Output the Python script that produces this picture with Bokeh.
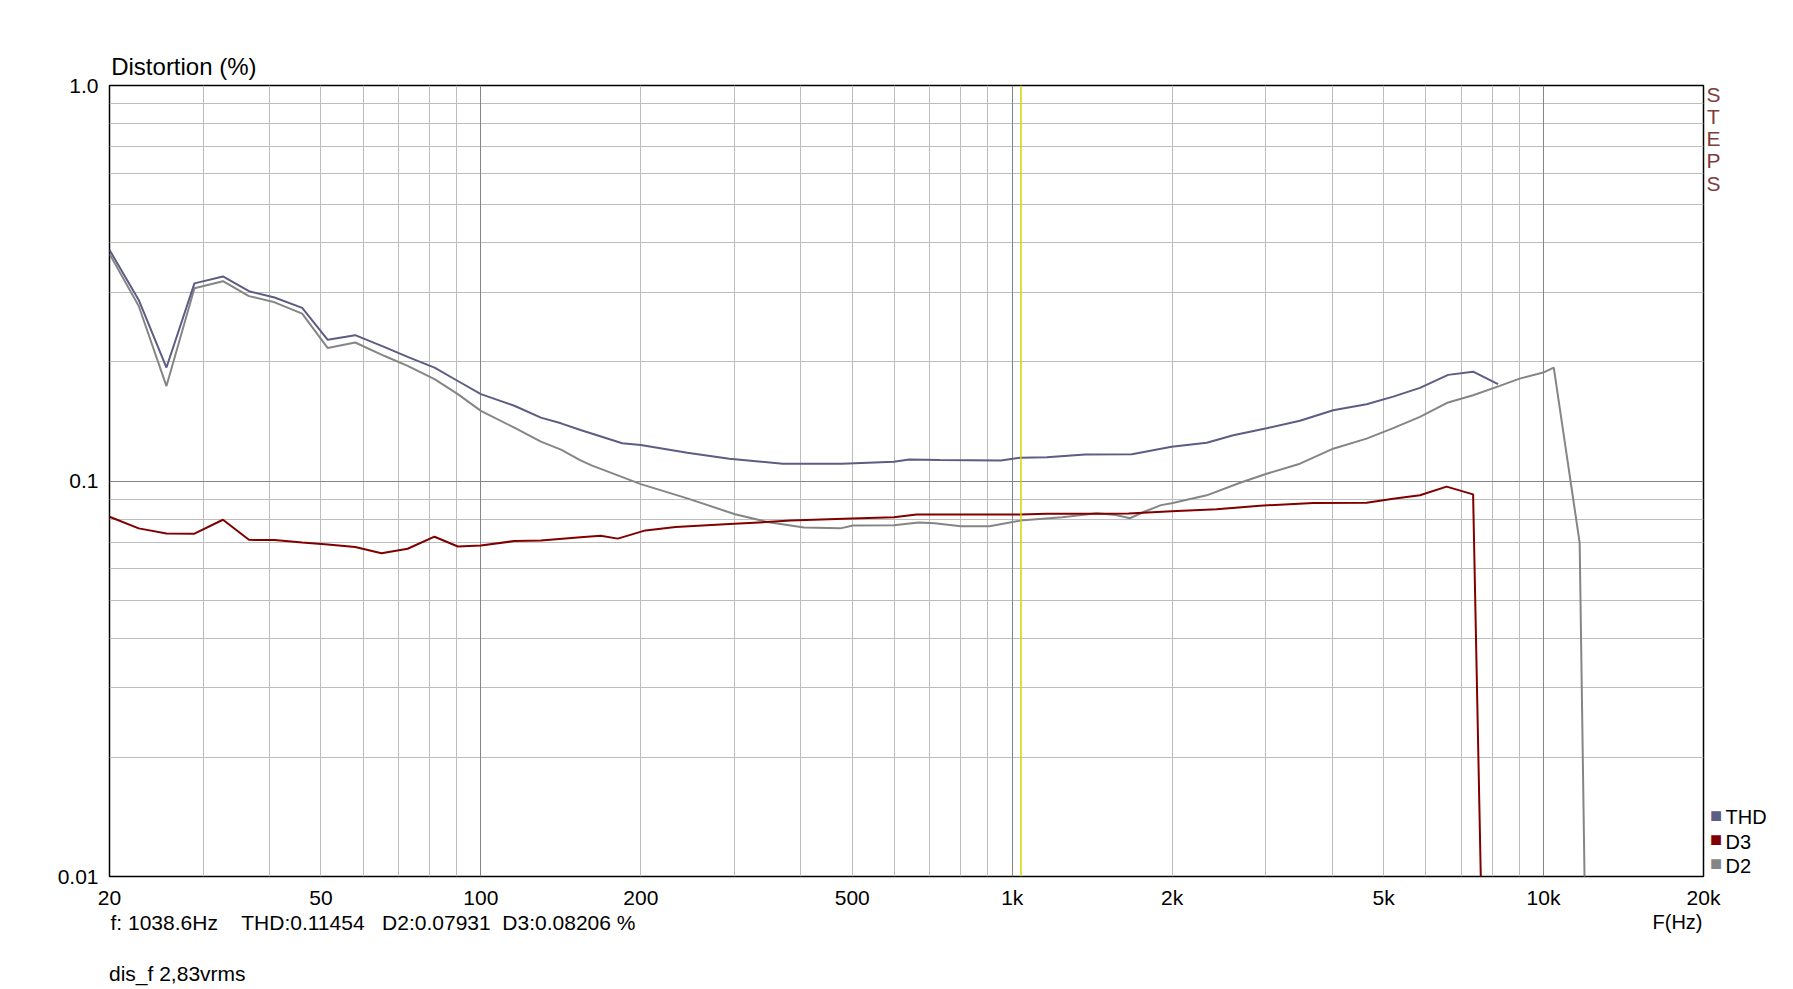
from bokeh.plotting import figure
from bokeh.models import Range1d, FixedTicker, Grid, Span, Label
from bokeh.embed import file_html
from bokeh.resources import INLINE

# ---------------- data ----------------
thd_f = [20, 22.7, 25.6, 28.9, 32.7, 36.6, 40.9, 46.1, 51.5, 58.0, 65.9, 72.8, 81.8, 90.5,
         100, 115.6, 129.7, 141.5, 154, 184.5, 200, 244.6, 293.6, 370, 478, 598.6, 640,
         730.6, 952, 1035, 1162, 1372, 1680, 1995, 2323, 2607, 3012, 3480, 4018, 4644,
         5213, 5853, 6612, 7369, 8210]
thd_v = [0.384, 0.287, 0.1936, 0.316, 0.329, 0.302, 0.291, 0.274, 0.2275, 0.2337, 0.218,
         0.206, 0.1935, 0.179, 0.1658, 0.155, 0.1446, 0.1399, 0.1346, 0.1246, 0.1233,
         0.1179, 0.1138, 0.1106, 0.1106, 0.1119, 0.1134, 0.1130, 0.1127, 0.1145, 0.1149,
         0.1167, 0.1168, 0.1220, 0.1250, 0.1305, 0.1360, 0.1420, 0.1510, 0.1564, 0.1634,
         0.1720, 0.1855, 0.1890, 0.1757]

d2_f = [20, 22.7, 25.6, 28.9, 32.7, 36.6, 40.9, 46.1, 51.5, 58.0, 65.9, 72.8, 81.8, 90.5,
        100, 115.6, 129.7, 141.5, 154, 161.5, 200, 244.6, 300.8, 346, 405.6, 474.6, 502,
        598.6, 667, 715, 800, 906, 1035, 1242, 1442, 1567, 1665, 1767, 1906, 1995, 2323,
        2685, 3012, 3480, 4018, 4644, 5213, 5853, 6612, 7369, 8270, 9014, 9983, 10453,
        11694, 12100]
d2_v = [0.375, 0.277, 0.1738, 0.307, 0.320, 0.2934, 0.283, 0.265, 0.2168, 0.224, 0.207,
        0.1955, 0.181, 0.1658, 0.1504, 0.1364, 0.1258, 0.120, 0.1128, 0.1095, 0.0982,
        0.0904, 0.0824, 0.0788, 0.0763, 0.0759, 0.0772, 0.0773, 0.0785, 0.0782, 0.0768,
        0.0768, 0.0794, 0.0810, 0.0829, 0.0820, 0.0805, 0.0835, 0.0869, 0.0878, 0.0920,
        0.0990, 0.1043, 0.1106, 0.1207, 0.1280, 0.1360, 0.1452, 0.1580, 0.1648, 0.1740,
        0.1815, 0.1880, 0.1935, 0.0698, 0.003]

d3_f = [20, 22.7, 25.6, 28.9, 32.7, 36.6, 40.9, 46.1, 51.5, 58.0, 65.0, 72.8, 81.8, 90.5,
        100, 115.6, 129.7, 154, 168, 181, 204, 232.6, 293.6, 382.6, 498.6, 598.6, 661,
        1035, 1162, 1464, 1656, 1995, 2425, 2925, 3688, 4644, 5213, 5853, 6570, 7369, 7700]
d3_v = [0.0812, 0.0759, 0.0737, 0.0736, 0.0798, 0.0710, 0.0709, 0.0699, 0.0691, 0.0681,
        0.0657, 0.0674, 0.0723, 0.0683, 0.0687, 0.0705, 0.0707, 0.0721, 0.0727, 0.0715,
        0.0750, 0.0765, 0.0778, 0.0794, 0.0804, 0.0810, 0.0823, 0.0823, 0.0826, 0.0826,
        0.0828, 0.0838, 0.0848, 0.0866, 0.0880, 0.0881, 0.0902, 0.0920, 0.0968, 0.0925,
        0.0049]

x_ticks = [20, 50, 100, 200, 500, 1000, 2000, 5000, 10000, 20000]
x_tick_labels = ["20", "50", "100", "200", "500", "1k", "2k", "5k", "10k", "20k"]
y_ticks = [0.01, 0.1, 1.0]
y_tick_labels = ["0.01", "0.1", "1.0"]

cursor_f = 1038.6
cursor_thd = 0.11454
cursor_d2 = 0.07931
cursor_d3 = 0.08206

series_names = ["THD", "D3", "D2"]
series_colors = ["#5c5c84", "#800000", "#858585"]

title_text = "Distortion (%)"
x_title = "F(Hz)"
brand = "STEPS"
footer = "dis_f 2,83vrms"

# ---------------- layout constants (pixels) ----------------
W, H = 1793, 989
L, R, T, B = 109, 1703, 85, 876
FW, FH = R - L, B - T
FONT = "Liberation Sans"

p = figure(width=W, height=H, x_axis_type="log", y_axis_type="log",
           x_range=Range1d(20, 20000), y_range=Range1d(0.01, 1.0),
           output_backend="svg", toolbar_location=None,
           min_border_left=L, min_border_right=W - R, min_border_top=T,
           min_border_bottom=H - B)
p.title.visible = False
p.background_fill_color = "white"
p.border_fill_color = "white"
p.outline_line_color = "black"
p.outline_line_width = 1.5


def fx(px):
    return 20 * 10 ** ((px - L) / FW * 3)


def fy(py):
    return 10 ** (-2 + (B - py) / FH * 2)


for ax in (p.xaxis[0], p.yaxis[0]):
    ax.axis_line_color = None
    ax.major_tick_line_color = None
    ax.minor_tick_line_color = None
    ax.major_tick_out = 0
    ax.major_tick_in = 0
    ax.major_label_text_font = FONT
    ax.major_label_text_font_size = "21px"
    ax.major_label_text_color = "black"

p.xaxis.ticker = FixedTicker(ticks=x_ticks)
p.xaxis.major_label_overrides = {t: l for t, l in zip(x_ticks, x_tick_labels)}
p.xaxis.major_label_standoff = 9
p.yaxis.ticker = FixedTicker(ticks=y_ticks)
p.yaxis.major_label_overrides = {t: l for t, l in zip(y_ticks, y_tick_labels)}
p.yaxis.major_label_standoff = 11

minor_x = [k * 10 ** e for e in (1, 2, 3) for k in range(2, 10) if 20 < k * 10 ** e < 20000]
minor_y = [k * 10.0 ** e for e in (-2, -1) for k in range(2, 10)]

p.xgrid.ticker = FixedTicker(ticks=minor_x)
p.xgrid.grid_line_color = "#bdbdbd"
p.ygrid.ticker = FixedTicker(ticks=minor_y)
p.ygrid.grid_line_color = "#bdbdbd"
p.add_layout(Grid(dimension=0, ticker=FixedTicker(ticks=[100, 1000, 10000]),
                  grid_line_color="#858585"))
p.add_layout(Grid(dimension=1, ticker=FixedTicker(ticks=[0.1]),
                  grid_line_color="#858585"))

p.add_layout(Span(location=cursor_f, dimension="height", line_color="#d4d400",
                  line_width=1.5))

series = {"THD": (thd_f, thd_v), "D3": (d3_f, d3_v), "D2": (d2_f, d2_v)}
for name in ["D2", "D3", "THD"]:
    f, v = series[name]
    p.line(f, v, line_color=series_colors[series_names.index(name)], line_width=2)


def lab(text, px, py, place, size=21, align="left", baseline="alphabetic",
        color="black", **kw):
    # texts sit in side panels so they are not clipped to the frame; the
    # alphabetic baseline of a Label lands ~0.32em low, hence the correction
    if baseline == "alphabetic":
        py = py - 0.32 * size
    p.add_layout(Label(x=fx(px), y=fy(py), text=text, text_font=FONT,
                       text_font_size=f"{size}px", text_align=align,
                       text_baseline=baseline, text_color=color, **kw), place)


# right side: brand letters, legend
lab("\n".join(brand), 1713, 82, "right", align="center", baseline="top",
    color="#7f3c3c", text_line_height=0.97)
legend_base = [823, 847.5, 871.5]
legend_place = ["right", "above", "below"]
square_place = ["right", "left", "left"]
for name, col, yb, pl, sp in zip(series_names, series_colors, legend_base,
                                 legend_place, square_place):
    lab("\u25a0", 1715.5, yb - 2.4, sp, size=20, align="center", color=col)
    lab(name, 1725, yb, pl, size=20)

# top
lab(title_text, 110.7, 73.3, "above", size=24)
lab(footer, 108.5, 979.3, "above")

# bottom info line
NB = "\u00a0"
info = (f"f: {cursor_f}Hz" + NB * 4 + f"THD:{cursor_thd}" + NB * 3
        + f"D2:{cursor_d2}" + NB * 2 + f"D3:{cursor_d3} %")
lab(info, 110, 928.3, "below")
lab(x_title, 1702, 928.3, "below", size=20, align="right")

open("out.html", "w").write(file_html(p, INLINE))
